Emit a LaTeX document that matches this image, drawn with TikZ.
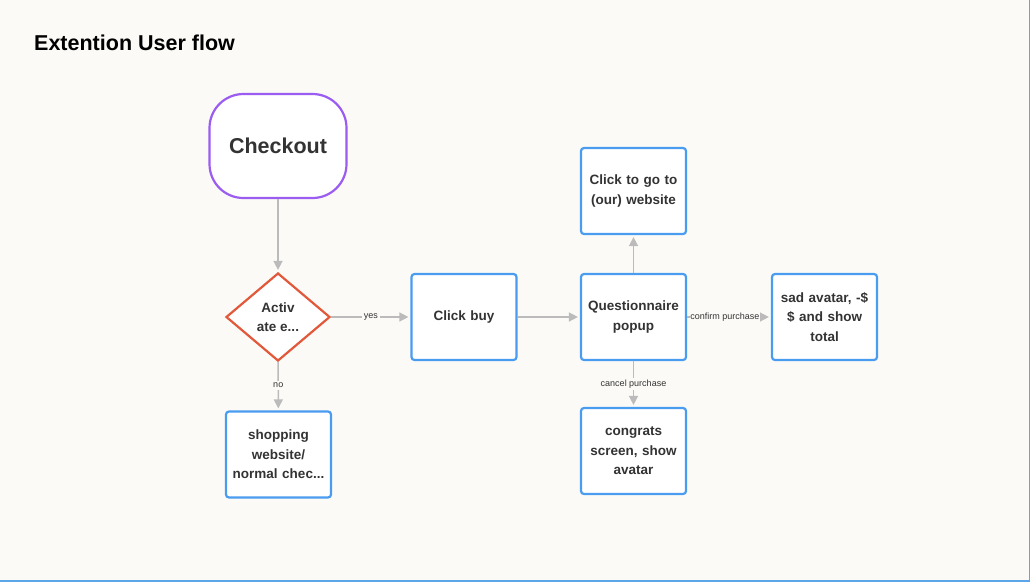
\documentclass[tikz,border=0pt]{standalone}
\usepackage{fontspec}
\setmainfont{Liberation Sans}
\usetikzlibrary{shapes.geometric,arrows.meta}
\definecolor{bg}{HTML}{FBFAF6}
\definecolor{boxblue}{HTML}{4A9CF0}
\definecolor{purp}{HTML}{9B5CF2}
\definecolor{redor}{HTML}{E2583A}
\definecolor{conn}{HTML}{BBBBBB}
\definecolor{txt}{HTML}{333333}
\definecolor{frame}{HTML}{5AA6E8}
\tikzset{
  stepbox/.style={draw=boxblue, line width=2.2pt, rounded corners=3pt, fill=white,
    minimum width=105pt, minimum height=86pt, text width=100pt, align=center,
    font=\fontsize{13.5}{19.5}\selectfont\bfseries, text=txt, inner sep=0pt},
  startbox/.style={draw=purp, line width=2.2pt, rounded corners=34pt, fill=white,
    minimum width=137pt, minimum height=104pt, font=\fontsize{21.5}{25}\selectfont\bfseries, text=txt},
  decbox/.style={draw=redor, line width=2.2pt, diamond, fill=white, aspect=1.18,
    minimum width=104pt, minimum height=88pt, inner sep=0pt, align=center,
    font=\fontsize{13.5}{19.5}\selectfont\bfseries, text=txt},
  flow/.style={draw=conn, line width=1.5pt, -{Triangle[length=9pt,width=9pt]}, shorten >=2pt},
  lbl/.style={fill=bg, font=\fontsize{9}{10}\selectfont, text=txt, inner sep=2pt}
}
\begin{document}
\begin{tikzpicture}[x=1pt,y=-1pt]
\fill[bg] (0,0) rectangle (1030,582);
\useasboundingbox (0,0) rectangle (1030,582);
\draw[frame, line width=2pt] (0,581) -- (1030,581);
\draw[frame, line width=1pt] (1029.5,0) -- (1029.5,582);
\node[anchor=base west, inner sep=0pt, font=\fontsize{21.5}{25}\selectfont\bfseries, text=black] (title) at (34,50) {Extention User flow};

\node[startbox] (checkout) at (278,146) {Checkout};
\node[decbox] (activ) at (278,317) {Activ\\ate e...};
\node[stepbox] (shop) at (278.5,454.5) {shopping\\website/\\normal chec...};
\node[stepbox] (buy) at (464,317) {Click buy};
\node[stepbox] (quest) at (633.5,317) {Questionnaire\\popup};
\node[stepbox] (site) at (633.5,191) {Click to go to\\(our) website};
\node[stepbox] (sad) at (824.5,317) {sad avatar, -\$\\\$ and show\\total};
\node[stepbox] (congrats) at (633.5,451) {congrats\\screen, show\\avatar};

\draw[flow] (checkout) -- (activ);
\draw[flow] (activ) -- node[lbl] {yes} (buy);
\draw[flow] (activ) -- node[lbl, pos=0.48] {no} (shop);
\draw[flow] (buy) -- (quest);
\draw[flow] (quest) -- (site);
\draw[flow] (quest) -- node[lbl, inner xsep=0.5pt, pos=0.45] {confirm purchase} (sad);
\draw[flow] (quest) -- node[lbl] {cancel purchase} (congrats);
\end{tikzpicture}
\end{document}
